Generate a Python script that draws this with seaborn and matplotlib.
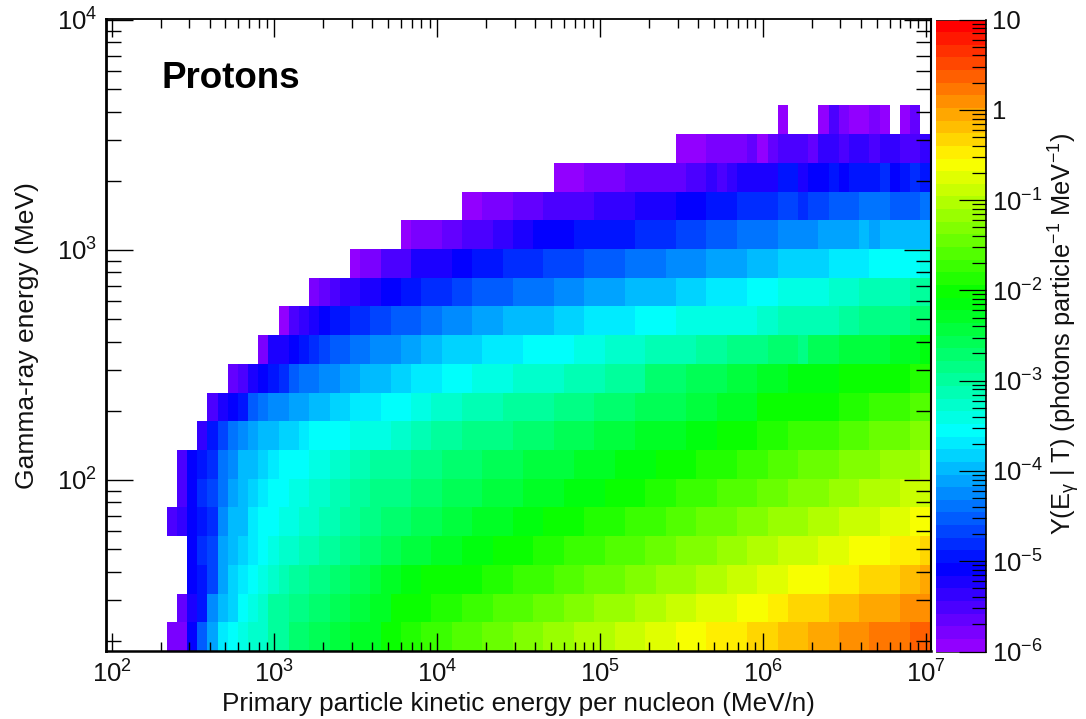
import colorsys
import numpy as np
import pandas as pd
import seaborn as sns
import matplotlib
matplotlib.use('Agg')
import matplotlib.pyplot as plt
from matplotlib.colors import ListedColormap, LogNorm
from matplotlib.ticker import LogLocator, NullFormatter, NullLocator, FixedLocator, FixedFormatter

nan = float('nan')

# each row of the 2D histogram: (number of bins, log10 of yield), bottom row first
row_01 = [(6,nan),(2,-5.79),(1,-5.09),(1,-4.53),(1,-4.11),(1,-3.69),(1,-3.55),(1,-3.41),(2,-3.27),(2,-2.99),(2,-2.71),(2,-2.57),(2,-2.43),(3,-2.29),(2,-2.01),(2,-1.87),(3,-1.73),(3,-1.59),(3,-1.45),(3,-1.31),(3,-1.17),(4,-1.03),(3,-0.89),(3,-0.75),(3,-0.61),(4,-0.47),(3,-0.33),(3,-0.19),(3,-0.05),(3,0.09),(4,0.23),(2,0.37)]
row_02 = [(7,nan),(1,-5.65),(1,-5.23),(1,-4.95),(1,-4.25),(1,-3.97),(1,-3.83),(1,-3.55),(1,-3.41),(1,-3.27),(2,-2.99),(2,-2.85),(2,-2.71),(2,-2.57),(2,-2.43),(2,-2.29),(4,-2.01),(3,-1.87),(3,-1.73),(4,-1.59),(3,-1.45),(3,-1.31),(4,-1.17),(3,-1.03),(3,-0.89),(4,-0.75),(3,-0.61),(2,-0.47),(4,-0.33),(3,-0.19),(4,-0.05),(3,0.09)]
row_03 = [(8,nan),(1,-5.09),(1,-4.95),(1,-4.67),(1,-4.11),(1,-3.83),(1,-3.69),(1,-3.55),(1,-3.41),(1,-3.27),(1,-3.13),(2,-2.99),(2,-2.85),(2,-2.71),(2,-2.57),(1,-2.43),(2,-2.29),(2,-2.15),(6,-2.01),(3,-1.87),(4,-1.73),(3,-1.59),(4,-1.45),(3,-1.31),(4,-1.17),(3,-1.03),(3,-0.89),(3,-0.75),(4,-0.61),(3,-0.47),(4,-0.33),(2,-0.19),(1,-0.05)]
row_04 = [(8,nan),(1,-5.09),(1,-4.81),(1,-4.67),(1,-4.11),(1,-3.97),(1,-3.83),(1,-3.69),(1,-3.55),(1,-3.41),(2,-3.27),(2,-3.13),(2,-2.99),(2,-2.85),(2,-2.71),(2,-2.57),(3,-2.43),(3,-2.29),(3,-2.15),(4,-2.01),(3,-1.87),(4,-1.73),(4,-1.59),(3,-1.45),(4,-1.31),(3,-1.17),(3,-1.03),(4,-0.89),(3,-0.75),(4,-0.61),(3,-0.47),(1,-0.33)]
row_05 = [(6,nan),(1,-5.51),(1,-5.37),(1,-5.09),(1,-4.95),(1,-4.81),(1,-4.25),(2,-3.97),(1,-3.69),(2,-3.55),(2,-3.41),(2,-3.27),(2,-3.13),(2,-2.99),(2,-2.85),(3,-2.71),(3,-2.57),(3,-2.43),(4,-2.29),(3,-2.15),(4,-2.01),(4,-1.87),(4,-1.73),(3,-1.59),(4,-1.45),(3,-1.31),(4,-1.17),(3,-1.03),(4,-0.89),(3,-0.75),(2,-0.61)]
row_06 = [(7,nan),(1,-5.51),(1,-5.09),(1,-4.81),(1,-4.67),(1,-4.39),(1,-4.11),(1,-3.97),(1,-3.83),(1,-3.69),(2,-3.55),(2,-3.41),(2,-3.27),(2,-3.13),(2,-2.99),(4,-2.85),(3,-2.71),(4,-2.57),(4,-2.43),(4,-2.29),(4,-2.15),(4,-2.01),(3,-1.87),(4,-1.73),(4,-1.59),(3,-1.45),(4,-1.31),(3,-1.17),(4,-1.03),(3,-0.89)]
row_07 = [(7,nan),(1,-5.51),(1,-5.09),(1,-4.95),(1,-4.81),(1,-4.39),(1,-4.25),(2,-3.97),(1,-3.83),(1,-3.69),(3,-3.55),(2,-3.41),(2,-3.27),(2,-3.13),(4,-2.99),(3,-2.85),(4,-2.71),(4,-2.57),(5,-2.43),(4,-2.29),(4,-2.15),(4,-2.01),(4,-1.87),(3,-1.73),(3,-1.59),(4,-1.45),(4,-1.31),(4,-1.17),(1,-1.03)]
row_08 = [(9,nan),(1,-5.37),(1,-4.95),(1,-4.67),(1,-4.39),(1,-4.25),(1,-4.11),(2,-3.97),(2,-3.83),(1,-3.69),(4,-3.55),(4,-3.41),(2,-3.27),(2,-3.13),(3,-2.99),(5,-2.85),(4,-2.71),(4,-2.57),(4,-2.43),(5,-2.29),(3,-2.15),(4,-2.01),(3,-1.87),(5,-1.73),(3,-1.59),(4,-1.45),(2,-1.31)]
row_09 = [(10,nan),(1,-5.51),(1,-5.23),(1,-5.09),(1,-4.95),(1,-4.53),(1,-4.39),(2,-4.25),(2,-4.11),(2,-3.97),(2,-3.83),(3,-3.69),(3,-3.55),(2,-3.41),(3,-3.27),(4,-3.13),(5,-2.99),(4,-2.85),(4,-2.71),(5,-2.57),(3,-2.43),(4,-2.29),(8,-2.01),(3,-1.87),(4,-1.73),(2,-1.59)]
row_10 = [(12,nan),(1,-5.65),(1,-5.51),(1,-5.23),(1,-5.09),(1,-4.95),(1,-4.81),(1,-4.53),(2,-4.39),(2,-4.25),(2,-4.11),(3,-3.97),(2,-3.83),(3,-3.69),(3,-3.55),(4,-3.41),(5,-3.27),(4,-3.13),(4,-2.99),(4,-2.71),(4,-2.57),(3,-2.43),(3,-2.29),(5,-2.15),(7,-2.01),(2,-1.87)]
row_11 = [(15,nan),(1,-5.79),(2,-5.23),(1,-5.09),(1,-4.95),(1,-4.81),(1,-4.67),(2,-4.53),(2,-4.39),(3,-4.25),(2,-4.11),(2,-3.97),(4,-3.83),(4,-3.69),(5,-3.55),(3,-3.41),(4,-3.27),(5,-3.13),(3,-2.99),(4,-2.85),(3,-2.71),(1,-2.85),(3,-2.57),(5,-2.43),(3,-2.29),(1,-2.15)]
row_12 = [(17,nan),(1,-5.93),(1,-5.51),(1,-5.37),(1,-5.23),(1,-5.09),(2,-4.95),(2,-4.81),(2,-4.67),(3,-4.53),(2,-4.39),(3,-4.25),(3,-4.11),(5,-3.97),(3,-3.83),(5,-3.69),(4,-3.55),(8,-3.41),(2,-3.27),(6,-3.13),(2,-2.99),(5,-2.85),(2,-2.71)]
row_13 = [(20,nan),(1,-5.79),(1,-5.65),(1,-5.51),(2,-5.37),(2,-5.23),(2,-5.09),(2,-4.95),(3,-4.81),(2,-4.67),(4,-4.53),(4,-4.39),(3,-4.25),(4,-4.11),(5,-3.97),(3,-3.83),(4,-3.69),(3,-3.55),(5,-3.41),(3,-3.27),(5,-3.13),(2,-2.99)]
row_14 = [(24,nan),(1,-5.93),(2,-5.79),(3,-5.51),(4,-5.23),(2,-5.09),(3,-4.95),(4,-4.81),(4,-4.67),(4,-4.53),(4,-4.39),(4,-4.25),(4,-4.11),(3,-3.97),(5,-3.83),(4,-3.69),(5,-3.55),(1,-3.41)]
row_15 = [(29,nan),(1,-5.93),(3,-5.79),(2,-5.65),(3,-5.51),(2,-5.37),(2,-5.23),(4,-5.09),(6,-4.95),(4,-4.81),(3,-4.67),(3,-4.53),(4,-4.39),(4,-4.25),(4,-4.11),(1,-3.97),(1,-4.11),(5,-3.97)]
row_16 = [(35,nan),(2,-5.93),(3,-5.79),(3,-5.65),(5,-5.51),(4,-5.37),(4,-5.23),(3,-5.09),(3,-4.95),(4,-4.81),(2,-4.67),(1,-4.81),(2,-4.67),(3,-4.53),(3,-4.39),(3,-4.53),(1,-4.39)]
row_17 = [(44,nan),(3,-5.93),(4,-5.79),(6,-5.65),(2,-5.51),(1,-5.37),(1,-5.51),(1,-5.37),(4,-5.23),(2,-4.95),(1,-5.23),(2,-5.09),(1,-4.95),(1,-5.09),(3,-4.95),(1,-4.81),(1,-5.09),(1,-4.95),(1,-4.81),(1,-4.95)]
row_18 = [(56,nan),(3,-5.93),(4,-5.79),(1,-5.65),(1,-5.93),(1,-5.65),(3,-5.51),(1,-5.65),(2,-5.37),(1,-5.51),(2,-5.37),(1,-5.51),(2,-5.37),(2,-5.51),(1,-5.37)]
row_19 = [(66,nan),(1,-5.93),(3,nan),(1,-5.93),(1,-5.51),(1,-5.79),(2,-5.93),(1,-5.79),(1,-5.93),(1,nan),(1,-5.93),(1,-5.65),(1,nan)]
row_20 = [(81,nan)]
row_21 = [(81,nan)]
row_22 = [(81,nan)]

rows = [row_01, row_02, row_03, row_04, row_05, row_06, row_07, row_08, row_09, row_10, row_11,
        row_12, row_13, row_14, row_15, row_16, row_17, row_18, row_19, row_20, row_21, row_22]

bar_ticks = [1e-6, 1e-5, 1e-4, 1e-3, 1e-2, 1e-1, 1, 10]
bar_labels = ['$10^{-6}$', '$10^{-5}$', '$10^{-4}$', '$10^{-3}$', '$10^{-2}$', '$10^{-1}$', '1', '10']


def expand(row):
    counts = [c for c, v in row]
    values = [v for c, v in row]
    out = np.repeat(values, counts)
    assert len(out) == 81, len(out)
    return out


sns.set_style('white')
plt.rcParams['font.family'] = ['Liberation Sans', 'DejaVu Sans']
plt.rcParams['mathtext.fontset'] = 'custom'
plt.rcParams['mathtext.rm'] = 'Liberation Sans'
plt.rcParams['mathtext.it'] = 'Liberation Sans'
plt.rcParams['mathtext.default'] = 'regular'

W, H = 1086, 719
grid = 10.0 ** np.vstack([expand(r) for r in rows])
df = pd.DataFrame(grid[::-1])  # heatmap draws first row on top

# ROOT rainbow palette, 50 levels from violet to red
palette = [colorsys.hsv_to_rgb((280 - (i + 1) * 5.6) / 360, 1, 1) for i in range(50)]
cmap = ListedColormap(palette)

fig = plt.figure(figsize=(W / 100, H / 100), dpi=100, facecolor='white')
box = [105.5 / W, 1 - 651 / H, 825 / W, 631.7 / H]
bar_box = [935.5 / W, 1 - 651.5 / H, 50 / W, 632 / H]
ax = fig.add_axes(box)
cax = fig.add_axes(bar_box)

sns.heatmap(df, ax=ax, cbar_ax=cax, cmap=cmap, norm=LogNorm(1e-6, 10),
            xticklabels=False, yticklabels=False)
ax.set_axis_off()

# log axes drawn over the uniform histogram cells
top = fig.add_axes(box, facecolor='none')
top.set_zorder(10)
top.set_axisbelow(False)
top.set_xscale('log')
top.set_yscale('log')
top.set_xlim(10 ** 1.962, 10 ** 7.03)
top.set_ylim(10 ** 1.2565, 10 ** 4.003)
for axis in [top.xaxis, top.yaxis]:
    axis.set_major_locator(LogLocator(base=10, numticks=12))
    axis.set_minor_locator(LogLocator(base=10, subs=np.arange(2, 10), numticks=12))
    axis.set_minor_formatter(NullFormatter())
top.tick_params(axis='x', which='major', direction='in', top=True, bottom=True, length=13, width=1.0,
                labelsize=18.5, pad=7, color='black', labelcolor='#111111')
top.tick_params(axis='x', which='minor', direction='in', top=True, bottom=True, length=6.5, width=1.0, color='black')
top.tick_params(axis='y', which='major', direction='in', left=True, right=True, length=19.5, width=1.0,
                labelsize=18.5, pad=6, color='black', labelcolor='#111111')
top.tick_params(axis='y', which='minor', direction='in', left=True, right=True, length=10.5, width=1.0, color='black')
for side, lw in [('left', 2.0), ('bottom', 1.8), ('top', 1.3), ('right', 1.5)]:
    top.spines[side].set_visible(True)
    top.spines[side].set_linewidth(lw)
    top.spines[side].set_color('black')

# colorbar ticks sit on their own axes so they stay above the colour bands
cbar = ax.collections[0].colorbar
cbar.outline.set_visible(False)
cax.tick_params(which='both', left=False, right=False, labelleft=False, labelright=False)

bar_top = fig.add_axes(bar_box, facecolor='none')
bar_top.set_zorder(10)
bar_top.set_axisbelow(False)
bar_top.set_yscale('log')
bar_top.set_ylim(1e-6, 10)
bar_top.xaxis.set_major_locator(NullLocator())
bar_top.yaxis.set_major_locator(FixedLocator(bar_ticks))
bar_top.yaxis.set_major_formatter(FixedFormatter(bar_labels))
bar_top.yaxis.set_minor_locator(LogLocator(base=10, subs=np.arange(2, 10), numticks=12))
bar_top.yaxis.set_minor_formatter(NullFormatter())
bar_top.tick_params(axis='y', which='major', direction='in', left=False, right=True, labelleft=False, labelright=True,
                    length=19.5, width=0.9, labelsize=18.5, pad=5, color='black', labelcolor='#111111')
bar_top.tick_params(axis='y', which='minor', direction='in', left=False, right=True, length=10, width=0.9, color='black')
bar_top.spines['left'].set_linewidth(0)
bar_top.spines['top'].set_linewidth(0.6)
bar_top.spines['bottom'].set_linewidth(0.6)
bar_top.spines['right'].set_linewidth(1.2)
bar_top.spines['right'].set_color('black')

fig.text(518 / W, 1 - 704 / H, 'Primary particle kinetic energy per nucleon (MeV/n)',
         ha='center', va='center', fontsize=18.8, color='#111111')
fig.text(27 / W, 1 - 336 / H, 'Gamma-ray energy (MeV)', rotation=90,
         ha='center', va='center', fontsize=19, color='#111111')
fig.text(1064 / W, 1 - 334 / H, r'Y(E$_{\gamma}$ | T) (photons particle$^{-1}$ MeV$^{-1}$)', rotation=90,
         ha='center', va='center', fontsize=18.3, color='#111111')
fig.text(162 / W, 1 - 79 / H, 'Protons', ha='left', va='center',
         fontsize=26.5, fontweight='bold', color='black')

fig.savefig('out.png', dpi=100)
